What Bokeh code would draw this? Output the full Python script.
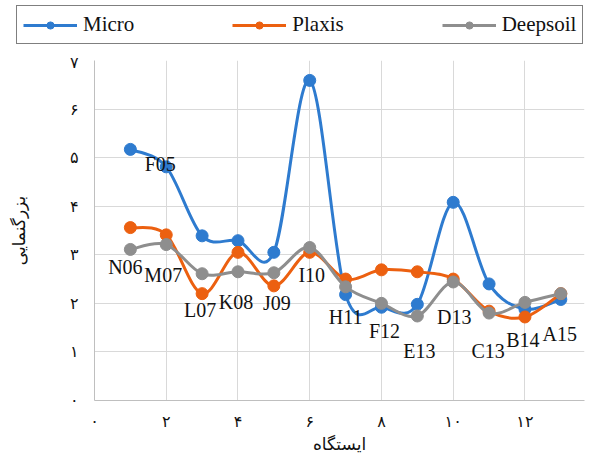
import numpy as np
from bokeh.plotting import figure
from bokeh.models import ColumnDataSource, Legend, LegendItem, FixedTicker, Range1d
from bokeh.core.properties import value
from bokeh.embed import file_html
from bokeh.resources import INLINE

# ---- data ----
stations = [1, 2, 3, 4, 5, 6, 7, 8, 9, 10, 11, 12, 13]
micro = [5.17, 4.81, 3.39, 3.29, 3.05, 6.59, 2.18, 1.92, 1.98, 4.08, 2.40, 1.88, 2.08]
plaxis = [3.56, 3.41, 2.20, 3.05, 2.36, 3.05, 2.50, 2.69, 2.65, 2.50, 1.84, 1.72, 2.20]
deepsoil = [3.11, 3.21, 2.61, 2.65, 2.63, 3.15, 2.34, 2.00, 1.74, 2.44, 1.80, 2.02, 2.20]

label_text = ["N06", "F05", "M07", "L07", "K08", "J09", "I10", "H11", "F12", "E13", "D13", "C13", "B14", "A15"]
label_station = [1, 2, 2, 3, 4, 5, 6, 7, 8, 9, 10, 11, 12, 13]
label_series = ["Deepsoil", "Micro"] + ["Deepsoil"] * 12

x_ticks = [0, 2, 4, 6, 8, 10, 12, 14]
x_tick_labels = ["۰", "۲", "۴", "۶", "۸", "۱۰", "۱۲", "۱۴"]
y_ticks = [0, 1, 2, 3, 4, 5, 6, 7]
y_tick_labels = ["۰", "۱", "۲", "۳", "۴", "۵", "۶", "۷"]

x_title = "ایستگاه"
y_title = "بزرگنمایی"

# label placement (pixels, relative to anchor point)
label_dx = [-5, -6, -3, -2, -2, 3, 2, 0, 3, 2, 1, -1, -2, -1]
label_dy = [18, -3, 30, 36, 30, 30, 27, 30, 28, 35, 35, 38, 38, 40]

series = {"Micro": micro, "Plaxis": plaxis, "Deepsoil": deepsoil}
colors = {"Micro": "#2E7BCF", "Plaxis": "#EC6010", "Deepsoil": "#8E8E8E"}
names = ["Micro", "Plaxis", "Deepsoil"]


def smooth_segments(xs, ys):
    xs = np.asarray(xs, float)
    ys = np.asarray(ys, float)
    n = len(xs)
    d = dict(x0=[], y0=[], x1=[], y1=[], cx0=[], cy0=[], cx1=[], cy1=[])
    for i in range(n - 1):
        im = max(i - 1, 0)
        ip = min(i + 2, n - 1)
        d["x0"].append(xs[i]); d["y0"].append(ys[i])
        d["x1"].append(xs[i + 1]); d["y1"].append(ys[i + 1])
        d["cx0"].append(xs[i] + (xs[i + 1] - xs[im]) / 6.0)
        d["cy0"].append(ys[i] + (ys[i + 1] - ys[im]) / 6.0)
        d["cx1"].append(xs[i + 1] - (xs[ip] - xs[i]) / 6.0)
        d["cy1"].append(ys[i + 1] - (ys[ip] - ys[i]) / 6.0)
    return ColumnDataSource(d)


# ---------- legend strip (separate root so its frame spans the full width) ----------
lf = figure(width=585, height=52, output_backend="svg", toolbar_location=None,
            x_range=Range1d(0, 1), y_range=Range1d(0, 1), x_axis_type=None, y_axis_type=None,
            min_border_left=0, min_border_right=0, min_border_top=0, min_border_bottom=0)
lf.outline_line_color = None
lf.xgrid.visible = False
lf.ygrid.visible = False
litems = []
for name in names:
    c = colors[name]
    lr = lf.line([-5, -4], [-5, -4], line_color=c, line_width=3)
    ls = lf.scatter([-5], [-5], size=13, fill_color=c, line_color=c)
    litems.append(LegendItem(label=name, renderers=[lr, ls]))
legend = Legend(items=litems, orientation="horizontal", location=(16, 8),
                border_line_color="black", border_line_width=1, background_fill_color="white",
                background_fill_alpha=1.0, label_text_font="Liberation Serif", label_text_font_size="21px",
                label_text_color="#111111", glyph_width=54, glyph_height=18, label_standoff=6,
                spacing=98, padding=6, margin=0)
lf.add_layout(legend, "center")

# ---------- main chart ----------
p = figure(width=585, height=404, output_backend="svg", toolbar_location=None,
           x_range=Range1d(0, 13.66), y_range=Range1d(0, 7),
           min_border_left=94, min_border_right=1, min_border_top=8, min_border_bottom=50)
p.outline_line_color = None
p.background_fill_color = "white"
p.border_fill_color = "white"

for name in names:
    c = colors[name]
    src = smooth_segments(stations, series[name])
    p.bezier(x0="x0", y0="y0", x1="x1", y1="y1", cx0="cx0", cy0="cy0", cx1="cx1", cy1="cy1",
             source=src, line_color=c, line_width=3)
    p.scatter(stations, series[name], size=12, fill_color=c, line_color=c)

anchor_y = [series[s][st - 1] for s, st in zip(label_series, label_station)]
lsrc = ColumnDataSource(dict(x=label_station, y=anchor_y, text=label_text, dx=label_dx, dy=label_dy))
p.text(x="x", y="y", text="text", x_offset="dx", y_offset="dy", source=lsrc,
       text_font=value("Liberation Serif"), text_font_size="20px", text_color="#111111",
       text_align="center", text_baseline="middle")

p.xaxis.ticker = FixedTicker(ticks=x_ticks)
p.yaxis.ticker = FixedTicker(ticks=y_ticks)
p.xaxis.major_label_overrides = {t: l for t, l in zip(x_ticks, x_tick_labels)}
p.yaxis.major_label_overrides = {t: l for t, l in zip(y_ticks, y_tick_labels)}
for ax in (p.xaxis, p.yaxis):
    ax.major_tick_line_color = None
    ax.minor_tick_line_color = None
    ax.axis_line_color = "#bfbfbf"
    ax.axis_line_width = 1
    ax.major_label_text_font = "DejaVu Sans"
    ax.major_label_text_font_size = "16px"
    ax.major_label_text_color = "#111111"
    ax.axis_label_text_font = "DejaVu Sans"
    ax.axis_label_text_font_style = "normal"
    ax.axis_label_text_font_size = "17px"
    ax.axis_label_text_color = "#111111"
p.xaxis.major_label_standoff = 5
p.yaxis.major_label_standoff = 10
p.xaxis.axis_label = x_title
p.yaxis.axis_label = y_title
p.xaxis.axis_label_standoff = 0
p.yaxis.axis_label_standoff = 38

p.xgrid.ticker = FixedTicker(ticks=x_ticks)
p.ygrid.ticker = FixedTicker(ticks=y_ticks)
p.xgrid.grid_line_color = "#d9d9d9"
p.ygrid.grid_line_color = "#d9d9d9"

open("out.html", "w").write(file_html([lf, p], INLINE))
